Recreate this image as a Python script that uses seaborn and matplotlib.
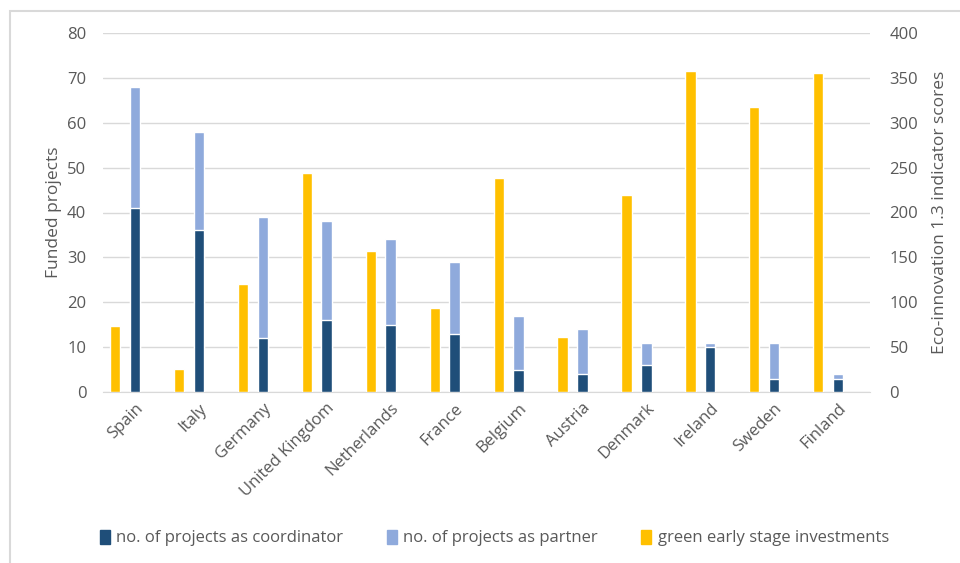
import numpy as np
import pandas as pd
import matplotlib
matplotlib.use("Agg")
import matplotlib.pyplot as plt
from matplotlib.patches import Patch, Rectangle
import seaborn as sns

sns.set_style("white")
plt.rcParams['font.family'] = ['Open Sans', 'DejaVu Sans']

countries = ['Spain', 'Italy', 'Germany', 'United Kingdom', 'Netherlands', 'France',
             'Belgium', 'Austria', 'Denmark', 'Ireland', 'Sweden', 'Finland']
coordinator = [41, 36, 12, 16, 15, 13, 5, 4, 6, 10, 3, 3]
partner = [27, 22, 27, 22, 19, 16, 12, 10, 5, 1, 8, 1]
green_invest = [74, 26, 120, 244, 157, 94, 238, 61, 220, 358, 317, 355]

c_coord = '#1F4E79'
c_partner = '#8FAADC'
c_green = '#FFC000'
txt = '#595959'

df = pd.DataFrame({'country': countries, 'coordinator': coordinator,
                   'partner': partner, 'green': green_invest})
df['total'] = df['coordinator'] + df['partner']

fig = plt.figure(figsize=(9.6, 5.63), dpi=100)
ax = fig.add_axes([103 / 960, 1 - 392 / 563, (870 - 103) / 960, (392 - 33) / 563])
ax2 = ax.twinx()

# stacked bars: total (partner colour) underneath, coordinator on top of it
sns.barplot(data=df, x='country', y='total', color=c_partner, width=0.165,
            saturation=1, ax=ax, zorder=3)
sns.barplot(data=df, x='country', y='coordinator', color=c_coord, width=0.165,
            saturation=1, ax=ax, zorder=3)

# green early stage investments on the secondary axis, shifted left
sns.barplot(data=df, x='country', y='green', color=c_green, width=0.16,
            saturation=1, ax=ax2, zorder=3)
for p in ax2.patches:
    p.set_x(p.get_x() - 0.31)

ax.set_xlim(-0.5, len(countries) - 0.5)
ax.set_ylim(0, 80)
ax2.set_ylim(0, 400)
ax.set_yticks(np.arange(0, 81, 10))
ax2.set_yticks(np.arange(0, 401, 50))
ax.yaxis.grid(True, color='#d9d9d9', linewidth=1, zorder=0)
ax.set_axisbelow(True)

for a in (ax, ax2):
    for s in a.spines.values():
        s.set_visible(False)
    a.tick_params(length=0, colors=txt, labelsize=12)
ax.spines['bottom'].set_visible(True)
ax.spines['bottom'].set_color('#d9d9d9')

ax.set_xlabel('')
ax.set_ylabel('Funded projects', color=txt, fontsize=12.5, labelpad=4)
ax2.set_ylabel('Eco-innovation 1.3 indicator scores', color=txt, fontsize=12.5, labelpad=10)
ax.set_xticks(range(len(countries)))
ax.set_xticklabels(countries, rotation=45, ha='right', rotation_mode='anchor',
                   color=txt, fontsize=12)
ax.tick_params(axis='x', pad=6)
ax.tick_params(axis='y', pad=12)
ax2.tick_params(axis='y', pad=14)

handles = [Patch(color=c_coord), Patch(color=c_partner), Patch(color=c_green)]
labels = ['no. of projects as coordinator', 'no. of projects as partner',
          'green early stage investments']
fig.legend(handles, labels, loc='center', bbox_to_anchor=(0.515, 1 - 538 / 563),
           ncol=3, frameon=False, fontsize=12, labelcolor=txt, handlelength=0.6,
           handleheight=0.9, handletextpad=0.4, columnspacing=2.6)

# light frame around the chart area (left and top edges visible)
fig.patches.append(Rectangle((10 / 960, -0.2), 1.2, 1.2 - 11 / 563,
                             transform=fig.transFigure, fill=False,
                             edgecolor='#d9d9d9', linewidth=1.5, clip_on=False))

fig.savefig('out.png', dpi=100)
